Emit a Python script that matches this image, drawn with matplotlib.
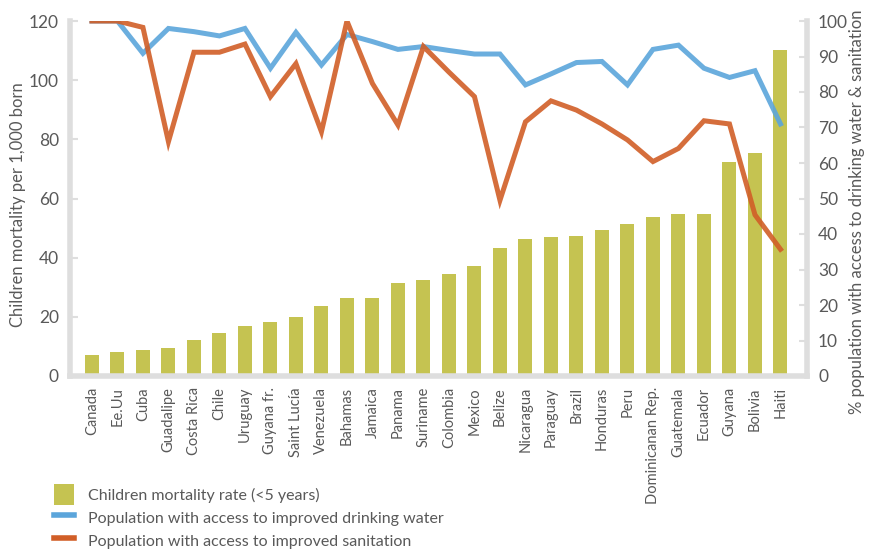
import matplotlib
matplotlib.use("Agg")
import matplotlib.pyplot as plt
from matplotlib.patches import Patch
from matplotlib.lines import Line2D

countries = ["Canada", "Ee.Uu", "Cuba", "Guadalipe", "Costa Rica", "Chile", "Uruguay",
             "Guyana fr.", "Saint Lucía", "Venezuela", "Bahamas", "Jamaica", "Panama",
             "Suriname", "Colombia", "Mexico", "Belize", "Nicaragua", "Paraguay", "Brazil",
             "Honduras", "Peru", "Dominicanan Rep.", "Guatemala", "Ecuador", "Guyana",
             "Bolivia", "Haiti"]
mortality = [7.1, 8.2, 8.8, 9.5, 12.2, 14.6, 17.0, 18.4, 20.1, 23.8, 26.5, 26.5, 31.6,
             32.3, 34.4, 37.1, 43.2, 46.3, 46.9, 47.3, 49.3, 51.4, 53.7, 54.8, 54.8,
             72.4, 75.5, 110.2]
water = [100, 100, 90.9, 97.9, 97.0, 95.8, 97.9, 86.7, 96.8, 87.6, 96.2, 94.2, 92.0,
         92.8, 91.7, 90.7, 90.7, 82.0, 85.1, 88.3, 88.6, 82.0, 92.0, 93.2, 86.7, 84.1,
         86.0, 71.0]
sanitation = [100, 100, 98.2, 66.0, 91.2, 91.2, 93.5, 78.7, 88.0, 68.8, 100, 82.4, 70.7,
              92.8, 85.6, 78.7, 49.5, 71.6, 77.5, 74.9, 71.0, 66.5, 60.4, 64.1, 71.9,
              71.0, 45.4, 35.7]

olive = "#C5C351"
blue = "#5BA5DB"
orange = "#D15E27"
grey = "#DEDEDE"
txt = "#595959"

plt.rcParams['font.family'] = ['Lato', 'DejaVu Sans']

fig = plt.figure(figsize=(8.7, 5.52), dpi=100)
ax = fig.add_axes([70/870, 1-376/552, (807-70)/870, (376-21)/552])
x = list(range(len(countries)))
ax.bar(x, mortality, width=0.55, color=olive, zorder=2)
ax.set_xlim(-0.86, 28.04)
ax.set_ylim(0, 120)
ax.set_yticks(range(0, 121, 20))
ax.set_xticks(x)
ax.set_xticklabels(countries, rotation=90, fontsize=10.5, color=txt)

ax2 = ax.twinx()
ax2.plot(x, water, color=blue, lw=3.6, alpha=0.9, solid_joinstyle='miter', zorder=3)
ax2.plot(x, sanitation, color=orange, lw=3.6, alpha=0.9, solid_joinstyle='miter', zorder=3)
ax2.set_ylim(0, 100)
ax2.set_yticks(range(0, 101, 10))

for a in (ax, ax2):
    for s in a.spines.values():
        s.set_visible(False)
ax.spines['left'].set_visible(True)
ax.spines['bottom'].set_visible(True)
ax2.spines['right'].set_visible(True)
for s in (ax.spines['left'], ax.spines['bottom'], ax2.spines['right']):
    s.set_color(grey)
    s.set_linewidth(4)

ax.tick_params(axis='y', direction='in', length=6, width=1.5, color=grey,
               labelsize=12.5, labelcolor=txt, pad=8)
ax.tick_params(axis='x', length=0, pad=8)
ax2.tick_params(axis='y', direction='in', length=6, width=1.5, color=grey,
                labelsize=12.5, labelcolor=txt, pad=8)

fig.text(18/870, 1-205/552, "Children mortality per 1,000 born", rotation=90,
         ha='center', va='center', fontsize=12, color=txt)
fig.text(857/870, 1-212/552, "% population with access to drinking water & sanitation",
         rotation=90, ha='center', va='center', fontsize=12, color=txt)

handles = [Patch(facecolor=olive, edgecolor='none'),
           Line2D([0], [0], color=blue, lw=4),
           Line2D([0], [0], color=orange, lw=4)]
labels = ["Children mortality rate (<5 years)",
          "Population with access to improved drinking water",
          "Population with access to improved sanitation"]
leg = fig.legend(handles, labels, loc='upper left', bbox_to_anchor=(48/870, 1-478/552),
                 frameon=False, fontsize=11.5, labelcolor=txt, handlelength=1.2,
                 handleheight=1.6, labelspacing=0.15, handletextpad=0.9, borderaxespad=0)

fig.savefig("out.png", dpi=100)
